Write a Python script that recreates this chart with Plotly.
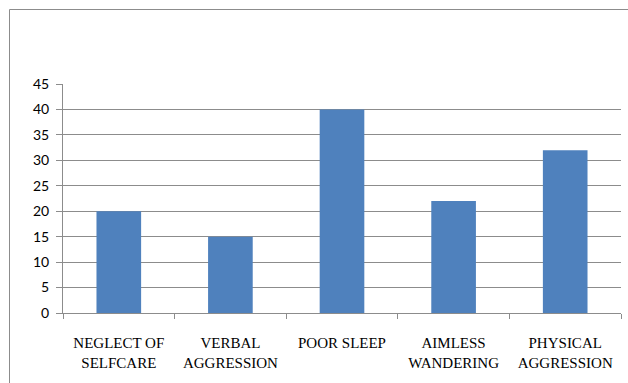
import plotly.graph_objects as go

categories = ["NEGLECT OF<br>SELFCARE", "VERBAL<br>AGGRESSION", "POOR SLEEP",
              "AIMLESS<br>WANDERING", "PHYSICAL<br>AGGRESSION"]
values = [20, 15, 40, 22, 32]
y_ticks = [0, 5, 10, 15, 20, 25, 30, 35, 40, 45]

serif_style = "font-family:'Liberation Serif', 'Times New Roman', serif"
x_ticktext = [
    "<br>".join(f'<span style="{serif_style}">{part}</span>' for part in c.split("<br>"))
    for c in categories
]

fig = go.Figure(go.Bar(x=categories, y=values, marker_color="#4F81BD",
                       marker_line_width=0))

W, H = 628, 383
L, R, T, B = 63, 7, 84, 70
pw, ph = W - L - R, H - T - B

def px_x(p):
    return (p - L) / pw

def px_y(p):
    return (H - B - p) / ph

grey = "#8C8C8C"
fig.update_layout(
    template="none",
    font=dict(family="Liberation Serif", size=15, color="black"),
    width=W, height=H,
    margin=dict(l=L, r=R, t=T, b=B, pad=0),
    paper_bgcolor="white", plot_bgcolor="white",
    bargap=0.6,
    showlegend=False,
    xaxis=dict(type="category", tickson="boundaries", ticks="outside", ticklen=5,
               tickcolor=grey, showline=True, linecolor=grey, linewidth=1,
               showgrid=False, tickmode="array", tickvals=categories, ticktext=x_ticktext,
               tickfont=dict(family="Liberation Serif", size=15, color="black"),
               ticklabelstandoff=16),
    yaxis=dict(range=[0, 45], tickvals=y_ticks, ticks="outside", ticklen=6,
               tickcolor=grey, showline=True, linecolor=grey, linewidth=1,
               showgrid=True, gridcolor=grey, gridwidth=1, zeroline=False,
               tickfont=dict(family="Lato", size=14, color="black"),
               ticklabelstandoff=4),
    shapes=[
        dict(type="line", xref="paper", yref="paper", x0=px_x(9.5), x1=px_x(640),
             y0=px_y(9.5), y1=px_y(9.5), line=dict(color=grey, width=1)),
        dict(type="line", xref="paper", yref="paper", x0=px_x(9.5), x1=px_x(9.5),
             y0=px_y(9.5), y1=px_y(400), line=dict(color=grey, width=1)),
    ],
)

fig.write_html("out.html")
